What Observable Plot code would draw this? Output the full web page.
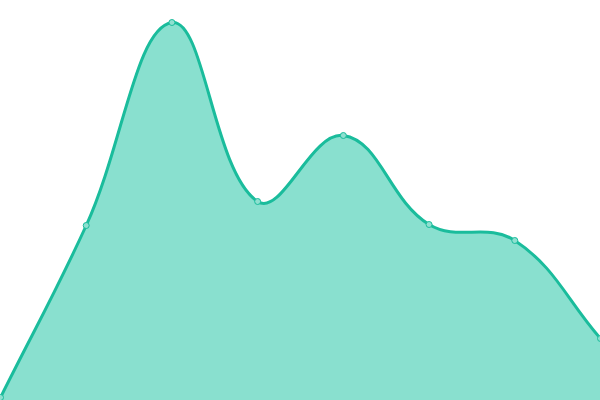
<!DOCTYPE html>
<html>
<head>
<meta charset="utf-8">
<script src="https://cdn.jsdelivr.net/npm/d3@7"></script>
<script src="https://cdn.jsdelivr.net/npm/@observablehq/plot@0.6"></script>
<style>
html, body { margin: 0; padding: 0; background: #fff; overflow: hidden; }
</style>
</head>
<body>
<div id="chart"></div>
<script>
const xs = [0, 1, 2, 3, 4, 5, 6, 7];
const values = [3, 175, 378, 199, 265, 176, 160, 62];
const data = xs.map((x, i) => ({x, y: values[i]}));

// Distance-weighted cubic spline (tension 0.4), as a d3 curve factory
function SplineCurve(context) { this._context = context; }
SplineCurve.prototype = {
  areaStart() { this._line = 0; },
  areaEnd() { this._line = NaN; },
  lineStart() { this._x = []; this._y = []; },
  point(x, y) { this._x.push(+x); this._y.push(+y); },
  lineEnd() {
    const x = this._x, y = this._y, n = x.length, c = this._context, t = 0.4;
    if (n) {
      this._line ? c.lineTo(x[0], y[0]) : c.moveTo(x[0], y[0]);
      if (n > 1) {
        const cp = [];
        for (let i = 0; i < n; i++) {
          const pi = Math.max(0, i - 1), ni = Math.min(n - 1, i + 1);
          const d01 = Math.hypot(x[i] - x[pi], y[i] - y[pi]);
          const d12 = Math.hypot(x[ni] - x[i], y[ni] - y[i]);
          let s01 = d01 / (d01 + d12), s12 = d12 / (d01 + d12);
          if (!isFinite(s01)) s01 = 0;
          if (!isFinite(s12)) s12 = 0;
          const fa = t * s01, fb = t * s12;
          const dx = x[ni] - x[pi], dy = y[ni] - y[pi];
          cp.push({px: x[i] - fa * dx, py: y[i] - fa * dy, nx: x[i] + fb * dx, ny: y[i] + fb * dy});
        }
        for (let i = 1; i < n; i++) {
          c.bezierCurveTo(cp[i - 1].nx, cp[i - 1].ny, cp[i].px, cp[i].py, x[i], y[i]);
        }
      }
    }
    if (this._line || (this._line !== 0 && n === 1)) c.closePath();
    this._line = 1 - this._line;
  }
};
const splineCurve = (context) => new SplineCurve(context);

const chart = Plot.plot({
  width: 600,
  height: 400,
  margin: 0,
  x: {domain: [0, 7], axis: null},
  y: {domain: [0, 400], axis: null},
  marks: [
    Plot.areaY(data, {x: "x", y: "y", curve: splineCurve, fill: "#89e0cf"}),
    Plot.lineY(data, {x: "x", y: "y", curve: splineCurve, stroke: "#1abc9c", strokeWidth: 3}),
    Plot.dot(data, {x: "x", y: "y", r: 3, fill: "#8ee0d0", stroke: "#1abc9c", strokeWidth: 1})
  ]
});
document.getElementById("chart").appendChild(chart);
</script>
</body>
</html>
